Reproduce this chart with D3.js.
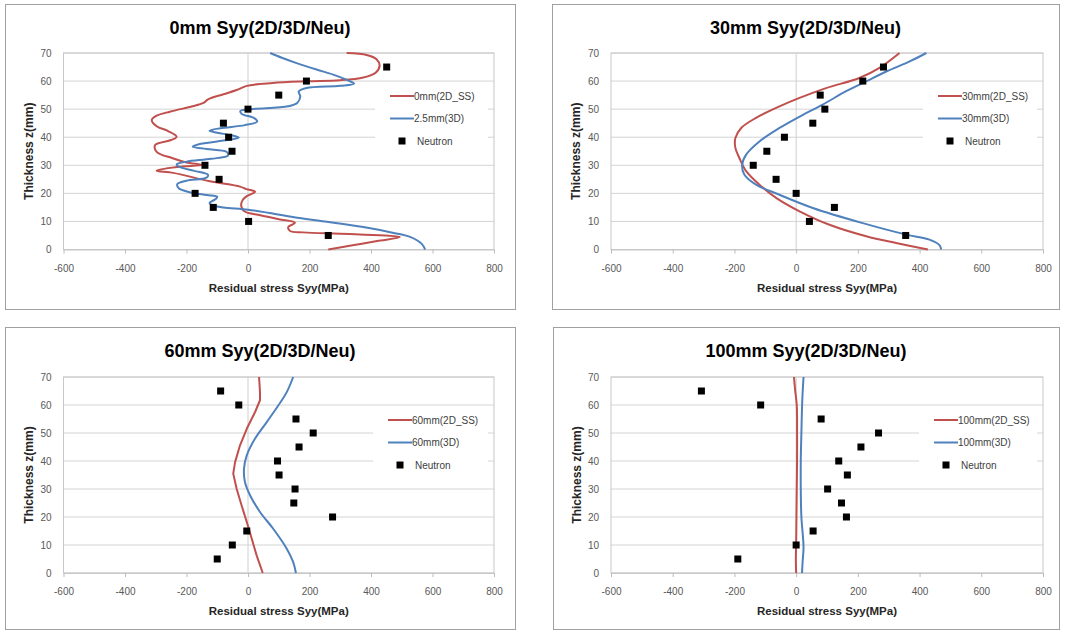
<!DOCTYPE html>
<html>
<head>
<meta charset="utf-8">
<script src="https://cdn.jsdelivr.net/npm/d3@7"></script>
<style>
  body { margin: 0; background: #fff; }
  svg { display: block; font-family: "Liberation Sans", Arial, sans-serif; }
</style>
</head>
<body>
<svg id="chart" width="1066" height="632"></svg>
<script>
// axis ticks
const stressTicks = [-600, -400, -200, 0, 200, 400, 600, 800];
const thickTicks = [0, 10, 20, 30, 40, 50, 60, 70];

// neutron measurements (z in mm, stress in MPa)
const neutronZ = [65, 60, 55, 50, 45, 40, 35, 30, 25, 20, 15, 10, 5];
const neu0 = [451, 190, 100, 0, -80, -63, -52, -140, -94, -172, -113, 2, 261];
const neu30 = [283, 216, 78, 93, 54, -38, -95, -139, -65, 0, 124, 43, 355];
const neu60 = [-89, -30, 156, 212, 166, 96, 101, 153, 149, 275, -4, -51, -100];
const neu100 = [-307, -115, 81, 267, 210, 138, 166, 102, 147, 163, 55, 0, -189];

// simulated profiles [stress, z]
const ss2d_0 = [[261,0],[340,1.5],[420,3],[494,4.4],[330,5.5],[180,6.1],[137,6.6],[131,8],[153,9.5],[100,10.8],[40,12.2],[-12,13.6],[-22,15.5],[-18,17.5],[-4,19],[23,20.6],[-5,21.5],[-26,22.4],[-124,24.3],[-243,27.3],[-297,28.1],[-230,29.4],[-150,30.1],[-200,31],[-245,32.5],[-297,34.8],[-302,37.2],[-250,39],[-232,40.2],[-260,42.2],[-297,43.9],[-313,46.1],[-300,47.5],[-254,49.1],[-180,51],[-145,52.2],[-130,53.5],[-80,55.3],[-37,56.8],[-4,58.3],[80,59.3],[191,59.9],[299,60.3],[375,61.3],[415,63],[428,65.5],[418,67.8],[386,69.3],[321,70]];
const fe3d_0 = [[576,0],[565,2],[527,4.5],[470,6],[375,8],[250,10],[150,11.5],[70,13],[0,14.2],[-80,15],[-110,15.6],[-125,16.5],[-105,18],[-100,18.8],[-135,19.4],[-190,20.4],[-225,21.8],[-230,23.3],[-200,24.5],[-135,25.6],[-130,26.6],[-175,28],[-225,29.5],[-232,30.3],[-200,31.3],[-120,32.3],[-65,33.5],[-70,34.8],[-135,35.8],[-180,36.6],[-160,37.5],[-80,38.8],[-30,39.8],[-50,40.6],[-100,41.6],[-125,42.3],[-90,43.2],[-10,44.3],[30,45.6],[20,46.8],[-20,48.3],[-25,49.3],[10,50],[130,51],[160,52.2],[170,54.5],[165,56.3],[190,57.5],[300,58.3],[345,59.1],[320,60.5],[277,62.3],[223,64.1],[158,66.4],[110,68.3],[72,70]];
const ss2d_30 = [[427,0],[324,2.3],[227,4.7],[108,8.8],[11,13.6],[-65,18.4],[-119,23.1],[-162,27.9],[-184,32.6],[-197,36.2],[-197,39.7],[-178,43.3],[-130,46.9],[-54,51],[11,54],[97,57.5],[205,61.1],[270,64.7],[335,70]];
const fe3d_30 = [[470,0],[465,1.5],[432,3.5],[357,5.3],[216,9.4],[54,14.8],[-54,19.5],[-130,23.1],[-168,26.7],[-175,30.2],[-162,33.8],[-119,38.5],[-54,43.3],[22,48],[86,51.6],[162,56.4],[227,59.9],[292,63.4],[368,67],[422,70]];
const ss2d_60 = [[48,0],[28,6.3],[12,12.3],[-4,18.2],[-21,24.2],[-37,30.1],[-48,35.5],[-42,39.6],[-26,45.6],[-4,51.5],[23,57.5],[39,61.7],[39,64.6],[36,70]];
const fe3d_60 = [[156,0],[147,3.9],[126,8.7],[82,15.8],[39,21.8],[7,27.7],[-10,32.5],[-13,37.3],[-4,42],[23,48],[61,53.9],[99,59.9],[126,64.6],[147,70]];
const ss2d_100 = [[0,0],[-1,5],[0,10],[1,20],[2,30],[3,40],[3,50],[2,60],[-3,65],[-7,70]];
const fe3d_100 = [[19,0],[21,4],[24,9],[22,13],[17,20],[15,30],[15,40],[17,50],[20,62],[24,70]];

const titles = ["0mm Syy(2D/3D/Neu)", "30mm Syy(2D/3D/Neu)", "60mm Syy(2D/3D/Neu)", "100mm Syy(2D/3D/Neu)"];
const names2d = ["0mm(2D_SS)", "30mm(2D_SS)", "60mm(2D_SS)", "100mm(2D_SS)"];
const names3d = ["2.5mm(3D)", "30mm(3D)", "60mm(3D)", "100mm(3D)"];

const RED = "#c0504d", BLUE = "#4f81bd";

const panels = [
  { title: titles[0], n2d: names2d[0], n3d: names3d[0], l2d: ss2d_0,   l3d: fe3d_0,   neu: neu0,
    box: [5, 4, 515, 309],   plot: [63.5, 53, 494, 249.5], legendX: 390, curve2d: d3.curveCatmullRom },
  { title: titles[1], n2d: names2d[1], n3d: names3d[1], l2d: ss2d_30,  l3d: fe3d_30,  neu: neu30,
    box: [552, 4, 1059, 309], plot: [611, 53, 1043, 249.5], legendX: 938, curve2d: d3.curveCatmullRom },
  { title: titles[2], n2d: names2d[2], n3d: names3d[2], l2d: ss2d_60,  l3d: fe3d_60,  neu: neu60,
    box: [5, 327, 515, 629], plot: [63.5, 377, 494, 573], legendX: 388, curve2d: d3.curveLinear },
  { title: titles[3], n2d: names2d[3], n3d: names3d[3], l2d: ss2d_100, l3d: fe3d_100, neu: neu100,
    box: [553, 327, 1059, 629], plot: [611, 377, 1043, 573], legendX: 934, curve2d: d3.curveCatmullRom }
];

const svg = d3.select("#chart");

panels.forEach(p => {
  const [bx0, by0, bx1, by1] = p.box;
  const [left, top, right, bottom] = p.plot;
  const g = svg.append("g");

  // chart frame
  g.append("rect")
    .attr("x", bx0 + 0.5).attr("y", by0 + 0.5)
    .attr("width", bx1 - bx0).attr("height", by1 - by0)
    .attr("fill", "#fff").attr("stroke", "#a0a0a0");

  const x = d3.scaleLinear().domain([-600, 800]).range([left, right]);
  const y = d3.scaleLinear().domain([0, 70]).range([bottom, top]);

  // horizontal gridlines
  g.selectAll("line.grid")
    .data(thickTicks)
    .enter().append("line")
    .attr("x1", left).attr("x2", right)
    .attr("y1", d => y(d)).attr("y2", d => y(d))
    .attr("stroke", "#d4d4d4").attr("stroke-width", 1);

  // plot area border
  g.append("rect")
    .attr("x", left).attr("y", top)
    .attr("width", right - left).attr("height", bottom - top)
    .attr("fill", "none").attr("stroke", "#c8c8c8");

  // vertical axis at x=0
  g.append("line")
    .attr("x1", x(0)).attr("x2", x(0))
    .attr("y1", top).attr("y2", bottom)
    .attr("stroke", "#cfcfcf");

  // x ticks + labels (plain hyphen like excel)
  const xAxis = g.append("g")
    .attr("transform", `translate(0,${bottom})`)
    .call(d3.axisBottom(x).tickValues(stressTicks).tickSize(4).tickSizeOuter(0).tickFormat(d => String(d)));
  xAxis.select(".domain").attr("stroke", "#c8c8c8");
  xAxis.selectAll(".tick line").attr("stroke", "#bbbbbb");
  xAxis.selectAll("text")
    .attr("y", 15)
    .style("font-size", "10px").attr("fill", "#595959")
    .attr("font-family", "Liberation Sans, Arial, sans-serif");

  // y labels
  const yAxis = g.append("g")
    .attr("transform", `translate(${left},0)`)
    .call(d3.axisLeft(y).tickValues(thickTicks).tickSize(0).tickPadding(12));
  yAxis.select(".domain").remove();
  yAxis.selectAll("text")
    .style("font-size", "10px").attr("fill", "#595959")
    .attr("font-family", "Liberation Sans, Arial, sans-serif");

  // titles
  g.append("text")
    .attr("x", (bx0 + bx1) / 2).attr("y", by0 + 30)
    .attr("text-anchor", "middle")
    .style("font-size", "18px").style("font-weight", "bold").attr("fill", "#000")
    .text(p.title);

  g.append("text")
    .attr("x", (left + right) / 2).attr("y", bottom + 42)
    .attr("text-anchor", "middle")
    .style("font-size", "11.5px").style("font-weight", "bold").attr("fill", "#262626")
    .text("Residual stress Syy(MPa)");

  g.append("text")
    .attr("transform", `translate(${bx0 + 28},${(top + bottom) / 2}) rotate(-90)`)
    .attr("text-anchor", "middle")
    .style("font-size", "12px").style("font-weight", "bold").attr("fill", "#262626")
    .text("Thickness  z(mm)");

  // series
  const line2d = d3.line().x(d => x(d[0])).y(d => y(d[1])).curve(p.curve2d);
  const line3d = d3.line().x(d => x(d[0])).y(d => y(d[1])).curve(d3.curveCatmullRom);

  g.append("path").datum(p.l2d)
    .attr("d", line2d).attr("fill", "none")
    .attr("stroke", RED).attr("stroke-width", 2).attr("stroke-linejoin", "round");
  g.append("path").datum(p.l3d)
    .attr("d", line3d).attr("fill", "none")
    .attr("stroke", BLUE).attr("stroke-width", 2).attr("stroke-linejoin", "round");

  const pts = p.neu.map((v, i) => ({ v, z: neutronZ[i] }));
  g.selectAll("rect.neu")
    .data(pts)
    .enter().append("rect")
    .attr("class", "neu")
    .attr("x", d => x(d.v) - 3.5).attr("y", d => y(d.z) - 3.5)
    .attr("width", 7).attr("height", 7)
    .attr("fill", "#000");

  // legend
  const lx = p.legendX, ly = top + 43;
  g.append("rect")
    .attr("x", lx - 15).attr("y", top + 32)
    .attr("width", right - 6 - (lx - 15)).attr("height", 66)
    .attr("fill", "#fff");
  const items = [
    { name: p.n2d, color: RED, type: "line" },
    { name: p.n3d, color: BLUE, type: "line" },
    { name: "Neutron", color: "#000", type: "square" }
  ];
  items.forEach((it, i) => {
    const yy = ly + i * 22.5;
    if (it.type === "line") {
      g.append("line")
        .attr("x1", lx).attr("x2", lx + 24)
        .attr("y1", yy).attr("y2", yy)
        .attr("stroke", it.color).attr("stroke-width", 2);
    } else {
      g.append("rect")
        .attr("x", lx + 12 - 3.5).attr("y", yy - 3.5)
        .attr("width", 7).attr("height", 7).attr("fill", it.color);
    }
    g.append("text")
      .attr("x", lx + (it.type === "line" ? 24 : 27)).attr("y", yy + 3.5)
      .style("font-size", "10px").attr("fill", "#404040")
      .text(it.name);
  });
});
</script>
</body>
</html>
